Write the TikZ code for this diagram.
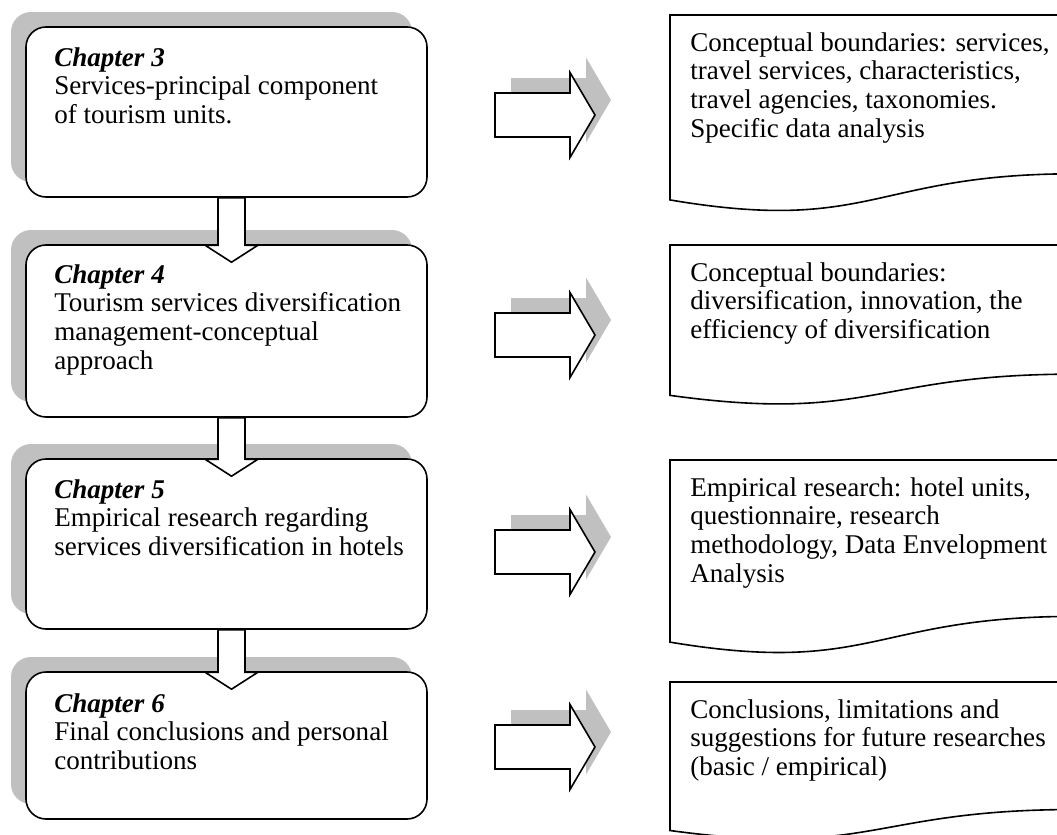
\documentclass[tikz,border=0pt]{standalone}
\usepackage{fontspec}
\setmainfont{Liberation Serif}
\usetikzlibrary{shadows,calc}
\definecolor{shgray}{RGB}{192,192,192}
\newcommand\rblock[2]{%
\begin{scope}[shift={(495,#2)}]
\fill[shd] (16,-37) -- (91,-37) -- (91,-57.5) -- (116,-15) -- (91,27.5) -- (91,7) -- (16,7) -- cycle;
\draw[blk] (0,-22) -- (75,-22) -- (75,-42.5) -- (100,0) -- (75,42.5) -- (75,22) -- (0,22) -- cycle;
\coordinate (#1) at (0,0);
\end{scope}}
\newcommand\chaparrow[2]{%
\draw[blk] ($(#1.south)+(-8.5,0)$) -- ($(#2.north)+(-8.5,1)$) -- ($(#2.north)+(-21.5,1)$)
  -- ($(#2.north)+(5,18)$) -- ($(#2.north)+(31.5,1)$) -- ($(#2.north)+(18.5,1)$)
  -- ($(#1.south)+(18.5,0)$) -- cycle;}
\newcommand\docshape[3]{% name, top, height
\draw[doc] (670,#2) -- (1075,#2) -- (1075,#2+0.802*#3)
  .. controls (872.5,#2+0.802*#3) and (872.5,#2+1.107*#3) .. (670,#2+0.934*#3) -- cycle;
\coordinate (#1) at (670,#2);}
\begin{document}
\begin{tikzpicture}[x=0.75pt,y=-0.75pt,
  chap/.style={draw, line width=1.2pt, fill=white, rounded corners=15pt,
    minimum width=300.75pt, inner sep=0pt,
    drop shadow={shadow xshift=-11.25pt, shadow yshift=11.25pt, fill=shgray, opacity=1}},
  txt/.style={anchor=north west, inner sep=0pt, align=left,
    font=\fontsize{20.3}{21.5}\selectfont},
  doc/.style={draw, line width=1.2pt, fill=white},
  blk/.style={draw, line width=1.2pt, fill=white, line join=miter},
  shd/.style={fill=shgray}]
\useasboundingbox (0,0) rectangle (1057,835);
\clip (0,0) rectangle (1057,835);

% chapter boxes
\node[chap, minimum height=127.5pt] (c3) at (226.5,112) {};
\node[chap, minimum height=129pt] (c4) at (226.5,331) {};
\node[chap, minimum height=127.5pt] (c5) at (226.5,544) {};
\node[chap, minimum height=110.25pt] (c6) at (226.5,745.5) {};

\node[txt] (t3) at (54,47) {\textbf{\textit{Chapter 3}}\\Services-principal component\\of tourism units.};
\node[txt] (t4) at (54,264) {\textbf{\textit{Chapter 4}}\\Tourism services diversification\\management-conceptual\\approach};
\node[txt] (t5) at (54,479) {\textbf{\textit{Chapter 5}}\\Empirical research regarding\\services diversification in hotels};
\node[txt] (t6) at (54,693) {\textbf{\textit{Chapter 6}}\\Final conclusions and personal\\contributions};

\chaparrow{c3}{c4}
\chaparrow{c4}{c5}
\chaparrow{c5}{c6}

% right block arrows
\rblock{r3}{115}
\rblock{r4}{335}
\rblock{r5}{552}
\rblock{r6}{747}

% documents
\docshape{d3}{15}{198}
\docshape{d4}{245}{161}
\docshape{d5}{460}{195}
\docshape{d6}{682}{159}

\node[txt] (e3) at (690,32) {Conceptual boundaries: services,\\travel services, characteristics,\\travel agencies, taxonomies.\\Specific data analysis};
\node[txt] (e4) at (690,262) {Conceptual boundaries:\\diversification, innovation, the\\efficiency of diversification};
\node[txt] (e5) at (690,477) {Empirical research: hotel units,\\questionnaire, research\\methodology, Data Envelopment\\Analysis};
\node[txt] (e6) at (690,699) {Conclusions, limitations and\\suggestions for future researches\\(basic / empirical)};
\end{tikzpicture}
\end{document}
